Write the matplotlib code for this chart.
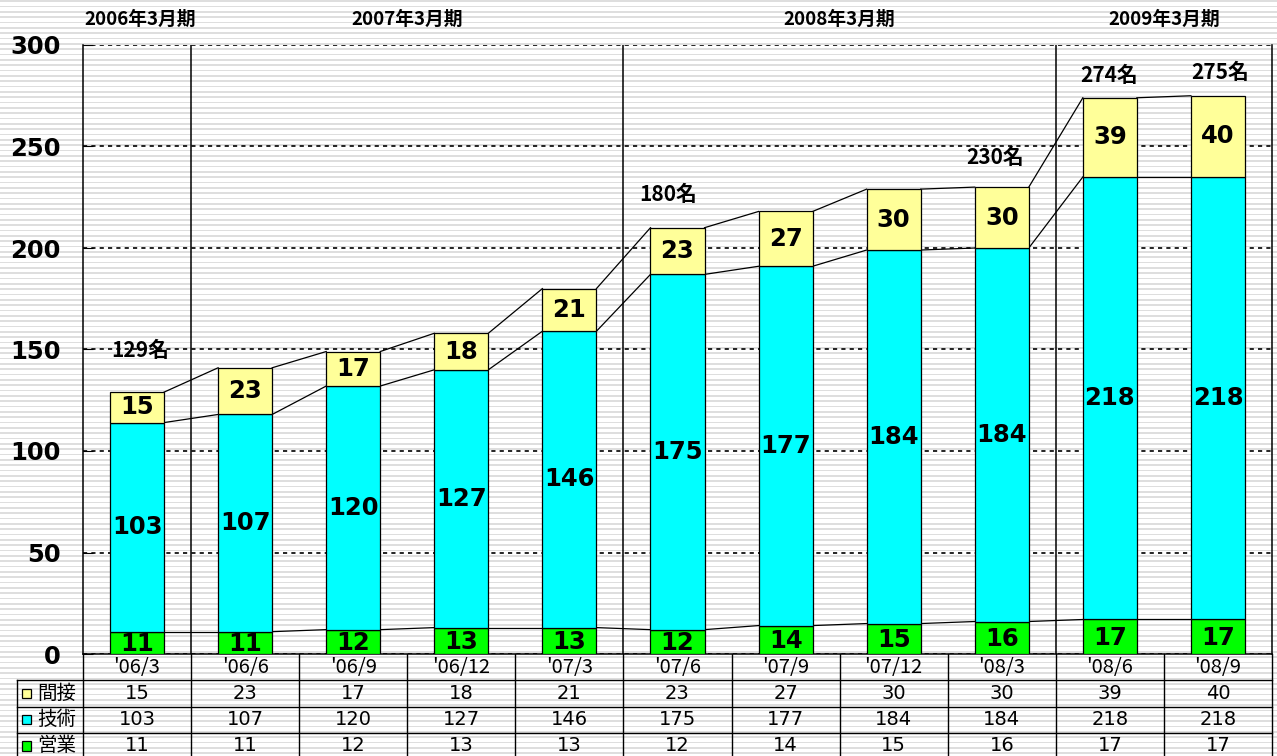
import numpy as np
import matplotlib
matplotlib.use("Agg")
import matplotlib.pyplot as plt
from matplotlib.patches import Rectangle

plt.rcParams['font.family'] = ['DejaVu Sans', 'Noto Sans CJK JP']

# ---- data ----
categories = ["'06/3", "'06/6", "'06/9", "'06/12", "'07/3", "'07/6",
              "'07/9", "'07/12", "'08/3", "'08/6", "'08/9"]
sales = [11, 11, 12, 13, 13, 12, 14, 15, 16, 17, 17]          # 営業
tech = [103, 107, 120, 127, 146, 175, 177, 184, 184, 218, 218]  # 技術
indirect = [15, 23, 17, 18, 21, 23, 27, 30, 30, 39, 40]        # 間接
series_names = ["間接", "技術", "営業"]
periods = ["2006年3月期", "2007年3月期", "2008年3月期", "2009年3月期"]
period_centers = [0.03, 2.5, 6.5, 9.5]
period_bounds = [0.5, 4.5, 8.5]
total_labels = ["129名", "180名", "230名", "274名", "275名"]
total_label_pos = [(0.03, 149.5), (4.91, 226.5), (7.94, 244.5), (8.99, 285), (10.02, 286.5)]

C_Y = "#FFFF99"
C_C = "#00FFFF"
C_G = "#00FF00"
JP = ['Noto Sans CJK JP']

W, H = 1277, 756
fig = plt.figure(figsize=(W / 100, H / 100), dpi=100)

# striped background
bg = fig.add_axes([0, 0, 1, 1], zorder=-10)
rows = np.arange(H)
stripe = np.where(((rows * 3) % 16) < 5, 0.87, 1.0)
bg.imshow(np.tile(stripe[:, None], (1, 4)), cmap='gray', vmin=0, vmax=1,
          aspect='auto', interpolation='nearest', extent=[0, 1, 0, 1])
bg.axis('off')

# main axes
L, R, T, B = 83, 1272, 45, 654
ax = fig.add_axes([L / W, 1 - B / H, (R - L) / W, (B - T) / H])
ax.set_facecolor('none')
x = np.arange(len(categories))
bw = 0.5
s = np.array(sales)
t = np.array(tech)
ind = np.array(indirect)
ax.bar(x, s, bw, color=C_G, edgecolor='black', linewidth=0.9, zorder=3)
ax.bar(x, t, bw, bottom=s, color=C_C, edgecolor='black', linewidth=0.9, zorder=3)
ax.bar(x, ind, bw, bottom=s + t, color=C_Y, edgecolor='black', linewidth=0.9, zorder=3)

# series lines
for cum in (s, s + t, s + t + ind):
    for i in range(len(x) - 1):
        ax.plot([x[i] + bw / 2, x[i + 1] - bw / 2], [cum[i], cum[i + 1]],
                color='black', lw=0.9, zorder=2)

# bar labels
for i in range(len(x)):
    ax.text(x[i], s[i] / 2 - 0.5, str(s[i]), ha='center', va='center',
            fontsize=17.5, fontweight='bold', zorder=5)
    ax.text(x[i], s[i] + t[i] / 2, str(t[i]), ha='center', va='center',
            fontsize=17.5, fontweight='bold', zorder=5)
    ax.text(x[i], s[i] + t[i] + ind[i] / 2, str(ind[i]), ha='center', va='center',
            fontsize=17.5, fontweight='bold', zorder=5)

ax.set_xlim(-0.5, len(x) - 0.5)
ax.set_ylim(0, 300)
ax.set_yticks(range(0, 301, 50))
ax.yaxis.grid(True, color='black', linestyle=(0, (2.5, 2.5)), linewidth=1.2)
ax.set_axisbelow(True)
ax.tick_params(axis='y', direction='in', length=7, pad=16, labelsize=17.5)
for lab in ax.get_yticklabels():
    lab.set_fontweight('bold')
ax.set_xticks([])
ax.spines['top'].set_visible(False)
for sp in ('left', 'right', 'bottom'):
    ax.spines[sp].set_linewidth(1.1)

for b in period_bounds:
    ax.axvline(b, color='black', lw=1.1, zorder=1)

for lab, pc in zip(periods, period_centers):
    ax.text(pc, 312.5, lab, ha='center', va='center', fontsize=13.5,
            fontweight='bold', family=JP, clip_on=False)

for lab, (px, py) in zip(total_labels, total_label_pos):
    ax.text(px, py, lab, ha='center', va='center', fontsize=15,
            fontweight='bold', family=JP, zorder=6)

# data table
TL = 17
slot = (R - L) / len(x)
xl = -0.5 - (L - TL) / slot
tb_bottom = 759
tax = fig.add_axes([TL / W, 1 - tb_bottom / H, (R - TL) / W, (tb_bottom - B) / H])
tax.set_facecolor('none')
tax.set_xlim(xl, len(x) - 0.5)
tax.set_ylim(0, 4)
tax.axis('off')
lw = 1.0
for yy in (3, 2, 1, 0):
    tax.plot([xl, len(x) - 0.5], [yy, yy], color='black', lw=lw, clip_on=False)
tax.plot([xl, xl], [0, 3], color='black', lw=lw, clip_on=False)
for k in range(len(x) + 1):
    tax.plot([k - 0.5, k - 0.5], [0, 4], color='black', lw=lw, clip_on=False)

for i, c in enumerate(categories):
    tax.text(i, 3.47, c, ha='center', va='center', fontsize=14.5, family=JP)
rows_data = [indirect, tech, sales]
colors = [C_Y, C_C, C_G]
sq = 9 / slot
for r, (name, vals, col) in enumerate(zip(series_names, rows_data, colors)):
    yc = 2.5 - r
    tax.add_patch(Rectangle((xl + 5 / slot, yc - 0.18), sq, 0.36,
                            facecolor=col, edgecolor='black', lw=0.9, clip_on=False))
    tax.text(xl + 20 / slot, yc, name, ha='left', va='center', fontsize=14, family=JP)
    for i, v in enumerate(vals):
        tax.text(i, yc, str(v), ha='center', va='center', fontsize=14)

fig.savefig("out.png", dpi=100)
